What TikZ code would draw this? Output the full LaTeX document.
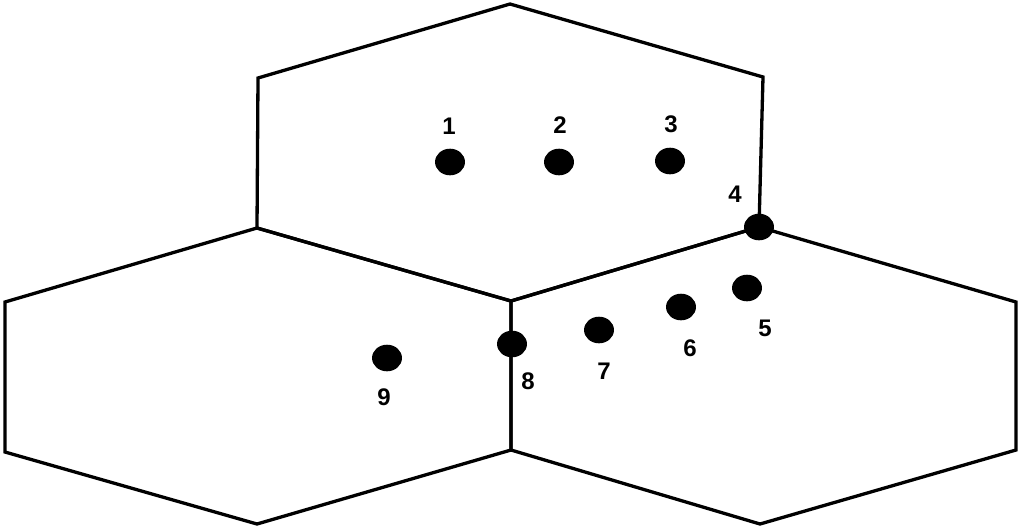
\documentclass[tikz,border=0pt]{standalone}
\usepackage{fontspec}
\setmainfont{Liberation Sans}
\begin{document}
\begin{tikzpicture}[x=1pt,y=-1pt,
  edge/.style={line width=3.3pt, line join=miter},
  site/.style={circle, fill=black, inner sep=0pt, minimum size=28pt, xscale=1.07, yscale=0.95},
  tag/.style={font=\fontsize{24}{24}\selectfont\bfseries, inner sep=0pt}]
\useasboundingbox (0,0) rectangle (1019,528);
% hexagon corners
\coordinate (t1) at (510,4);
\coordinate (t2) at (763,77);
\coordinate (t3) at (759,227);
\coordinate (t4) at (511,301);
\coordinate (t5) at (257,228);
\coordinate (t6) at (258,78);
\coordinate (l3) at (511,450);
\coordinate (l4) at (257,524);
\coordinate (l5) at (5,452);
\coordinate (l6) at (5,302);
\coordinate (r2) at (1016,302);
\coordinate (r3) at (1016,450);
\coordinate (r4) at (760,524);
% three cells
\draw[edge] (t1) -- (t2) -- (t3) -- (t4) -- (t5) -- (t6) -- cycle;
\draw[edge] (t5) -- (t4) -- (l3) -- (l4) -- (l5) -- (l6) -- cycle;
\draw[edge] (t3) -- (r2) -- (r3) -- (r4) -- (l3) -- (t4) -- cycle;
% numbered sites
\node[site] (p1) at (450,162) {};
\node[site] (p2) at (559,162) {};
\node[site] (p3) at (670,161) {};
\node[site] (p4) at (759,227) {};
\node[site] (p5) at (747,288) {};
\node[site] (p6) at (681,307) {};
\node[site] (p7) at (599,330) {};
\node[site] (p8) at (512,344) {};
\node[site] (p9) at (387,358) {};
\node[tag] (n1) at (449,126) {1};
\node[tag] (n2) at (560,125) {2};
\node[tag] (n3) at (671,124) {3};
\node[tag] (n4) at (735,194) {4};
\node[tag] (n5) at (765,328) {5};
\node[tag] (n6) at (690,348) {6};
\node[tag] (n7) at (604,371) {7};
\node[tag] (n8) at (528,381) {8};
\node[tag] (n9) at (384,397) {9};
\end{tikzpicture}
\end{document}
